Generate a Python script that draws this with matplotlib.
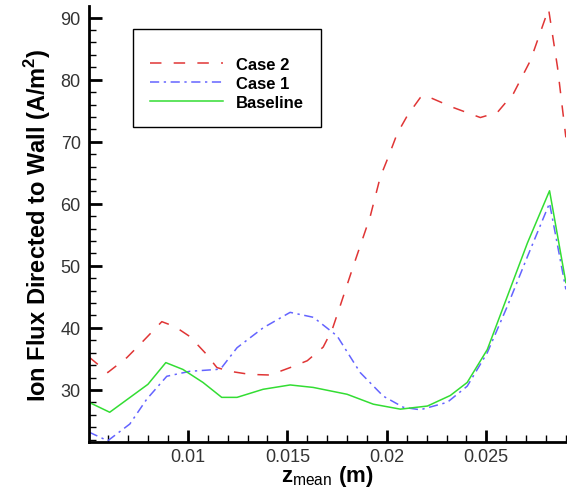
import matplotlib
matplotlib.use("Agg")
import matplotlib.pyplot as plt
from matplotlib.ticker import MultipleLocator

plt.rcParams['font.family'] = ['Liberation Sans', 'DejaVu Sans']
plt.rcParams['mathtext.fontset'] = 'custom'
plt.rcParams['mathtext.rm'] = 'Liberation Sans'
plt.rcParams['mathtext.bf'] = 'Liberation Sans:bold'

# values
z_case2 = [0.00503, 0.00597, 0.00693, 0.00773, 0.00869, 0.00935, 0.0101, 0.01086,
           0.01146, 0.01211, 0.01312, 0.01413, 0.01514, 0.0160, 0.0168, 0.01725,
           0.01765, 0.01831, 0.01916, 0.01967, 0.02007, 0.02052, 0.02103, 0.02168,
           0.0219, 0.02335, 0.0247, 0.02555, 0.02637, 0.02722, 0.02813, 0.02858,
           0.0290]
flux_case2 = [35.3, 32.8, 35.2, 37.8, 41.0, 40.2, 38.6, 36.0,
              33.6, 33.0, 32.5, 32.4, 33.6, 34.7, 36.9, 39.7,
              43.5, 49.9, 57.9, 64.3, 67.5, 71.3, 74.2, 77.1,
              77.5, 75.5, 73.9, 74.7, 77.8, 83.1, 91.4, 82.0,
              70.7]

z_case1 = [0.00503, 0.00597, 0.00708, 0.00793, 0.00894, 0.0101, 0.01146, 0.0117,
           0.01247, 0.01378, 0.01514, 0.01631, 0.01750, 0.01866, 0.01982, 0.02083,
           0.02168, 0.02304, 0.02404, 0.02505, 0.02606, 0.02707, 0.02818, 0.0290]
flux_case1 = [23.2, 21.8, 24.5, 28.5, 32.2, 33.0, 33.3, 33.6,
              36.8, 40.0, 42.5, 41.7, 38.7, 32.8, 29.0, 27.2,
              26.8, 28.0, 30.6, 36.0, 43.5, 51.5, 60.1, 46.2]

z_base = [0.00503, 0.00607, 0.00799, 0.00889, 0.00975, 0.01076, 0.0117, 0.01247,
          0.01378, 0.01514, 0.0163, 0.0180, 0.01932, 0.02068, 0.02204, 0.02319,
          0.02404, 0.02505, 0.02606, 0.02707, 0.02818, 0.0290]
flux_base = [28.0, 26.4, 30.9, 34.4, 33.3, 31.2, 28.8, 28.8,
             30.1, 30.8, 30.4, 29.3, 27.7, 26.9, 27.4, 29.1,
             31.2, 36.5, 45.1, 53.7, 62.1, 47.3]

fig = plt.figure(figsize=(5.67, 4.89), dpi=100)
ax = fig.add_axes([0.157, 0.094, 0.841, 0.892])

ax.plot(z_case2, flux_case2, color='#e03535', lw=1.1, dashes=(7.5, 8), label='Case 2')
ax.plot(z_case1, flux_case1, color='#6464ff', lw=1.1, dashes=(6, 3, 1.5, 3), label='Case 1')
ax.plot(z_base, flux_base, color='#33dd33', lw=1.1, label='Baseline')

ax.set_xlim(0.00503, 0.0290)
ax.set_ylim(21.6, 91.9)
ax.xaxis.set_major_locator(MultipleLocator(0.005))
ax.xaxis.set_minor_locator(MultipleLocator(0.001))
ax.yaxis.set_major_locator(MultipleLocator(10))
ax.yaxis.set_minor_locator(MultipleLocator(2))
ax.set_xticks([0.01, 0.015, 0.02, 0.025])
ax.set_xticklabels(['0.01', '0.015', '0.02', '0.025'])

for side in ['top', 'right']:
    ax.spines[side].set_visible(False)
for side in ['left', 'bottom']:
    ax.spines[side].set_linewidth(2)
ax.tick_params(which='major', direction='in', length=9, width=2, labelsize=13,
               labelcolor='#333333')
ax.tick_params(axis='x', which='major', pad=4)
ax.tick_params(axis='y', which='major', pad=6)
ax.tick_params(which='minor', direction='in', length=5, width=1)

ax.set_xlabel(r'$\mathbf{z}_{\mathrm{mean}}$ (m)', fontsize=16, fontweight='bold', labelpad=-1)
ax.set_ylabel(r'Ion Flux Directed to Wall (A/m$^{\mathbf{2}}$)', fontsize=17,
              fontweight='bold', labelpad=5)

leg = ax.legend(loc='upper left', bbox_to_anchor=(0.092, 0.947), borderaxespad=0,
                fancybox=False, edgecolor='black', framealpha=1,
                prop={'weight': 'bold', 'size': 12}, handlelength=4.4,
                labelspacing=0.25, borderpad=1.0, title=' ', title_fontsize=6)
leg.get_frame().set_linewidth(1.0)

fig.savefig('out.png', dpi=100)
